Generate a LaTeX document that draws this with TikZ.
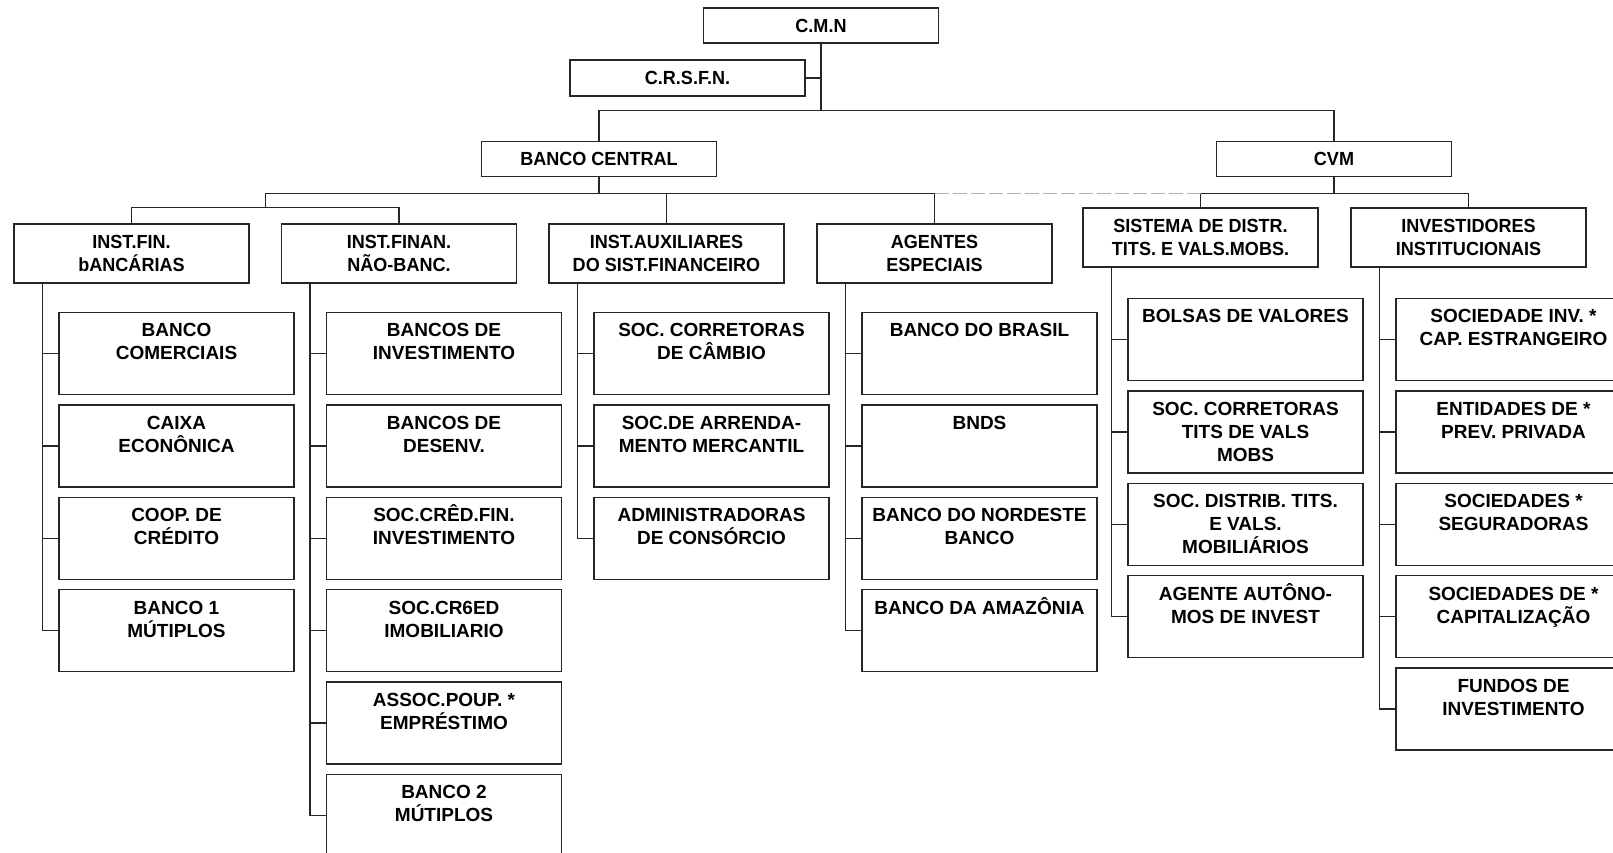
\documentclass[tikz,border=0pt]{standalone}
\usepackage{fontspec}
\setmainfont{Liberation Sans}
\newfontfamily\hdrfont[FakeStretch=0.95]{Liberation Sans}
\usetikzlibrary{positioning, calc}
\newcommand{\kidtxt}[1]{\parbox[c][82pt][t]{235pt}{\centering\rule{0pt}{24.5pt}#1}}
\tikzset{
    topbox/.style={rectangle, draw=black!85, line width=1.4pt, minimum width=235pt,
                   minimum height=35pt, inner sep=0pt,
                   font=\hdrfont\bfseries\fontsize{19}{23}\selectfont},
    hdr/.style={topbox, minimum height=59pt, align=center},
    kid/.style={rectangle, draw=black!85, line width=1.4pt, inner sep=0pt,
                font=\bfseries\fontsize{19}{23}\selectfont},
    link/.style={draw=black!85, line width=1.4pt},
    faint/.style={draw=black!30, line width=1pt, dash pattern=on 14pt off 4pt}
}
\begin{document}
\begin{tikzpicture}[x=1pt, y=-1pt, node distance=9pt]
  \useasboundingbox (0,0) rectangle (1613,852);
  \clip (0,0) rectangle (1613,852);

  % --- Councils ---
  \node[topbox] (cmn) at (821,25.5) {C.M.N};
  \node[topbox, minimum height=36pt] (crsfn) at (687.5,78) {C.R.S.F.N.};
  \node[topbox] (bc) at (599,159) {BANCO CENTRAL};
  \node[topbox] (cvm) at (1334,159) {CVM};

  % --- Groups ---
  \node[hdr] (ifb) at (131.5,253.5) {INST.FIN.\\bANCÁRIAS};
  \node[hdr] (ifn) at (399,253.5) {INST.FINAN.\\NÃO-BANC.};
  \node[hdr] (aux) at (666.5,253.5) {INST.AUXILIARES\\DO SIST.FINANCEIRO};
  \node[hdr] (age) at (934.5,253.5) {AGENTES\\ESPECIAIS};
  \node[hdr] (sis) at (1200.5,237.5) {SISTEMA DE DISTR.\\TITS. E VALS.MOBS.};
  \node[hdr] (inv) at (1468.5,237.5) {INVESTIDORES\\INSTITUCIONAIS};

  % --- Inst. bancarias ---
  \node[kid, below right=28pt and 45pt of ifb.south west] (bcom) {\kidtxt{BANCO\\COMERCIAIS}};
  \node[kid, below=of bcom] (cef) {\kidtxt{CAIXA\\ECONÔNICA}};
  \node[kid, below=of cef] (coop) {\kidtxt{COOP. DE\\CRÉDITO}};
  \node[kid, below=of coop] (bmu1) {\kidtxt{BANCO 1\\MÚTIPLOS}};

  % --- Inst. nao-bancarias ---
  \node[kid, below right=28pt and 45pt of ifn.south west] (binv) {\kidtxt{BANCOS DE\\INVESTIMENTO}};
  \node[kid, below=of binv] (bdes) {\kidtxt{BANCOS DE\\DESENV.}};
  \node[kid, below=of bdes] (scfi) {\kidtxt{SOC.CRÊD.FIN.\\INVESTIMENTO}};
  \node[kid, below=of scfi] (sci) {\kidtxt{SOC.CR6ED\\IMOBILIARIO}};
  \node[kid, below=of sci] (ape) {\kidtxt{ASSOC.POUP. *\\EMPRÉSTIMO}};
  \node[kid, below=of ape] (bmu2) {\kidtxt{BANCO 2\\MÚTIPLOS}};

  % --- Inst. auxiliares ---
  \node[kid, below right=28pt and 45pt of aux.south west] (scc) {\kidtxt{SOC. CORRETORAS\\DE CÂMBIO}};
  \node[kid, below=of scc] (sam) {\kidtxt{SOC.DE ARRENDA-\\MENTO MERCANTIL}};
  \node[kid, below=of sam] (adc) {\kidtxt{ADMINISTRADORAS\\DE CONSÓRCIO}};

  % --- Agentes especiais ---
  \node[kid, below right=28pt and 45pt of age.south west] (bb) {\kidtxt{BANCO DO BRASIL}};
  \node[kid, below=of bb] (bnds) {\kidtxt{BNDS}};
  \node[kid, below=of bnds] (bnb) {\kidtxt{BANCO DO NORDESTE\\BANCO}};
  \node[kid, below=of bnb] (basa) {\kidtxt{BANCO DA AMAZÔNIA}};

  % --- Sistema de distribuicao ---
  \node[kid, below right=30pt and 45pt of sis.south west] (bv) {\kidtxt{BOLSAS DE VALORES}};
  \node[kid, below=of bv] (sct) {\kidtxt{SOC. CORRETORAS\\TITS DE VALS\\MOBS}};
  \node[kid, below=of sct] (sdt) {\kidtxt{SOC. DISTRIB. TITS.\\E VALS.\\MOBILIÁRIOS}};
  \node[kid, below=of sdt] (aai) {\kidtxt{AGENTE AUTÔNO-\\MOS DE INVEST}};

  % --- Investidores institucionais ---
  \node[kid, below right=30pt and 45pt of inv.south west] (sice) {\kidtxt{SOCIEDADE INV. *\\CAP. ESTRANGEIRO}};
  \node[kid, below=of sice] (epp) {\kidtxt{ENTIDADES DE *\\PREV. PRIVADA}};
  \node[kid, below=of epp] (sseg) {\kidtxt{SOCIEDADES *\\SEGURADORAS}};
  \node[kid, below=of sseg] (scap) {\kidtxt{SOCIEDADES DE *\\CAPITALIZAÇÃO}};
  \node[kid, below=of scap] (finv) {\kidtxt{FUNDOS DE\\INVESTIMENTO}};

  % --- Upper links ---
  \coordinate (j0) at ($(cmn.south)+(0,67)$);
  \coordinate (j1) at ($(bc.south)+(0,16)$);
  \coordinate (j2) at ($(ifb.north)!0.5!(ifn.north)+(0,-16)$);
  \coordinate (j3) at ($(cvm.south)+(0,16)$);
  \draw[link] (cmn.south) -- (j0);
  \draw[link] (crsfn.east) -- (crsfn.east -| j0);
  \draw[link] (bc.north) |- (j0) -| (cvm.north);
  \draw[link] (bc.south) -- (j1);
  \draw[link] (ifb.north) |- (j2) -| (ifn.north);
  \draw[link] (j2) -- (j2 |- j1) -| (age.north);
  \draw[link] (aux.north) -- (aux.north |- j1);
  \draw[link] (cvm.south) -- (j3);
  \draw[link] (sis.north) |- (j3) -| (inv.north);
  \draw[faint] (age.north |- j1) -- (sis.north |- j3);

  % --- Column trunks ---
  \coordinate (tifb) at ($(ifb.south west)+(29,0)$);
  \coordinate (tifn) at ($(ifn.south west)+(29,0)$);
  \coordinate (taux) at ($(aux.south west)+(29,0)$);
  \coordinate (tage) at ($(age.south west)+(29,0)$);
  \coordinate (tsis) at ($(sis.south west)+(29,0)$);
  \coordinate (tinv) at ($(inv.south west)+(29,0)$);

  \draw[link] (tifb) |- (bmu1.west);
  \draw[link] (bcom.west) -- (bcom.west -| tifb);
  \draw[link] (cef.west) -- (cef.west -| tifb);
  \draw[link] (coop.west) -- (coop.west -| tifb);

  \draw[link] (tifn) |- (bmu2.west);
  \draw[link] (binv.west) -- (binv.west -| tifn);
  \draw[link] (bdes.west) -- (bdes.west -| tifn);
  \draw[link] (scfi.west) -- (scfi.west -| tifn);
  \draw[link] (sci.west) -- (sci.west -| tifn);
  \draw[link] (ape.west) -- (ape.west -| tifn);

  \draw[link] (taux) |- (adc.west);
  \draw[link] (scc.west) -- (scc.west -| taux);
  \draw[link] (sam.west) -- (sam.west -| taux);

  \draw[link] (tage) |- (basa.west);
  \draw[link] (bb.west) -- (bb.west -| tage);
  \draw[link] (bnds.west) -- (bnds.west -| tage);
  \draw[link] (bnb.west) -- (bnb.west -| tage);

  \draw[link] (tsis) |- (aai.west);
  \draw[link] (bv.west) -- (bv.west -| tsis);
  \draw[link] (sct.west) -- (sct.west -| tsis);
  \draw[link] (sdt.west) -- (sdt.west -| tsis);

  \draw[link] (tinv) |- (finv.west);
  \draw[link] (sice.west) -- (sice.west -| tinv);
  \draw[link] (epp.west) -- (epp.west -| tinv);
  \draw[link] (sseg.west) -- (sseg.west -| tinv);
  \draw[link] (scap.west) -- (scap.west -| tinv);

\end{tikzpicture}
\end{document}
